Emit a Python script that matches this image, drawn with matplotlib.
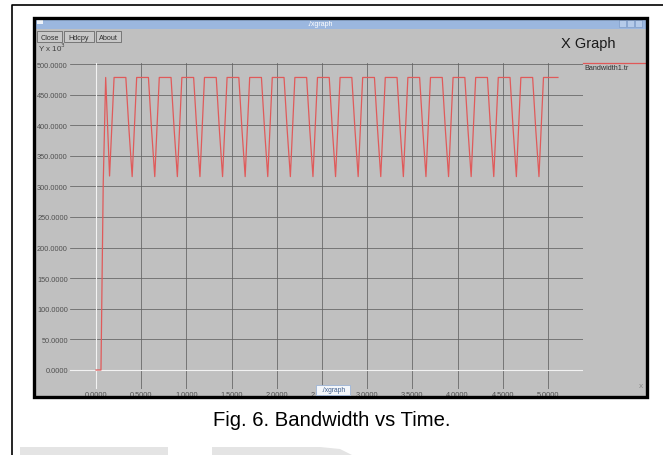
import matplotlib.pyplot as plt
from matplotlib.patches import Rectangle, Polygon
from matplotlib.ticker import FormatStrFormatter

# Bandwidth1.tr (time in s, bandwidth in 10^3 units)
time = [0.000, 0.055, 0.080, 0.107, 0.150, 0.200,
        0.330, 0.365, 0.400, 0.450,
        0.580, 0.615, 0.650, 0.700,
        0.830, 0.865, 0.900, 0.950,
        1.080, 1.115, 1.150, 1.200,
        1.330, 1.365, 1.400, 1.450,
        1.580, 1.615, 1.650, 1.700,
        1.830, 1.865, 1.900, 1.950,
        2.080, 2.115, 2.150, 2.200,
        2.330, 2.365, 2.400, 2.450,
        2.580, 2.615, 2.650, 2.700,
        2.830, 2.865, 2.900, 2.950,
        3.080, 3.115, 3.150, 3.200,
        3.330, 3.365, 3.400, 3.450,
        3.580, 3.615, 3.650, 3.700,
        3.830, 3.865, 3.900, 3.950,
        4.080, 4.115, 4.150, 4.200,
        4.330, 4.365, 4.400, 4.450,
        4.580, 4.615, 4.650, 4.700,
        4.830, 4.865, 4.900, 4.950,
        5.110]
bandwidth = [0, 0, 305, 478, 317, 478,
             478, 392, 316, 478,
             478, 392, 316, 478,
             478, 392, 316, 478,
             478, 392, 316, 478,
             478, 392, 316, 478,
             478, 392, 316, 478,
             478, 392, 316, 478,
             478, 392, 316, 478,
             478, 392, 316, 478,
             478, 392, 316, 478,
             478, 392, 316, 478,
             478, 392, 316, 478,
             478, 392, 316, 478,
             478, 392, 316, 478,
             478, 392, 316, 478,
             478, 392, 316, 478,
             478, 392, 316, 478,
             478, 392, 316, 478,
             478, 392, 316, 478,
             478]

x_ticks = [0.0, 0.5, 1.0, 1.5, 2.0, 2.5, 3.0, 3.5, 4.0, 4.5, 5.0]
y_ticks = [0, 50, 100, 150, 200, 250, 300, 350, 400, 450, 500]

W, H = 663, 456
fig = plt.figure(figsize=(W / 100, H / 100), dpi=100)
fig.patch.set_facecolor('white')
font = 'Liberation Sans'

# background layer in pixel coordinates (paper page + xgraph window)
bg = fig.add_axes([0, 0, 1, 1], zorder=0)
bg.set_xlim(0, W)
bg.set_ylim(H, 0)
bg.axis('off')

# page frame lines and faint watermark
bg.plot([11.5, 11.5, W], [H, 6, 6], color='black', lw=1.2)
bg.add_patch(Rectangle((20, 448), 148, 8, color='#e4e4e4', lw=0))
bg.add_patch(Polygon([(212, 456), (212, 448), (320, 448), (340, 450), (352, 456)],
                     closed=True, color='#e4e4e4', lw=0))

# window body and title bar
bg.add_patch(Rectangle((34, 19), 612, 378, color='#c0c0c0', lw=0))
bg.add_patch(Rectangle((34, 19), 612, 11, color='#9bb7df', lw=0))
bg.add_patch(Rectangle((37, 21), 6, 4, color='#eef3fa', lw=0))
for bx in (619, 627, 635):
    bg.add_patch(Rectangle((bx, 21), 7, 7, facecolor='#b5cbea', edgecolor='#7f9cc8', lw=0.5))
bg.text(320, 24.5, './xgraph', color='white', fontsize=5, family=font, ha='center', va='center')

# buttons
for label, x0, x1 in (('Close', 37, 62), ('Hdcpy', 64, 94), ('About', 96, 121)):
    bg.add_patch(Rectangle((x0, 32), x1 - x0, 11, facecolor='#c8c8c8', edgecolor='#6a6a6a', lw=0.6))
    bg.text((x0 + x1) / 2, 38, label, color='#303030', fontsize=5.2, family=font,
            ha='center', va='center')

bg.text(38, 48, 'Y x 10$^3$', color='#404040', fontsize=5.8, family=font, va='center')
bg.text(588, 44, 'X Graph', color='#1a1a1a', fontsize=10.5, family=font, ha='center', va='center')

# legend entry
bg.plot([583, 645], [64, 64], color='#e05858', lw=0.9)
bg.text(584, 68.5, 'Bandwidth1.tr', color='#303030', fontsize=5.2, family=font, va='center')

# caption
bg.text(332, 421, 'Fig. 6. Bandwidth vs Time.', color='black', fontsize=14.6, family=font,
        ha='center', va='center')

# plot area: x 0 -> px 96, 5 -> px 548 ; y 0 -> px 371, 500 -> px 65
px_x = 90.4
px_y = 0.612
left, right, top, bottom = 70, 583, 64, 390
ax = fig.add_axes([left / W, 1 - bottom / H, (right - left) / W, (bottom - top) / H], zorder=1)
ax.set_facecolor('none')
ax.set_xlim((left - 96) / px_x, (right - 96) / px_x)
ax.set_ylim((371 - bottom) / px_y, (371 - top) / px_y)
for s in ax.spines.values():
    s.set_visible(False)
ax.set_xticks(x_ticks)
ax.set_yticks(y_ticks)
ax.xaxis.set_major_formatter(FormatStrFormatter('%.4f'))
ax.yaxis.set_major_formatter(FormatStrFormatter('%.4f'))
ax.tick_params(length=0, labelsize=5.3, labelcolor='#505050', pad=1.5)
for lab in ax.get_xticklabels() + ax.get_yticklabels():
    lab.set_family(font)
ax.grid(True, color='#626262', lw=0.55)
ax.axvline(0, color='#f2f2f2', lw=0.8)
ax.axhline(0, color='#f2f2f2', lw=0.8)
ax.plot(time, bandwidth, color='#e05a5a', lw=0.9)

# overlay: window border, taskbar tooltip
ov = fig.add_axes([0, 0, 1, 1], zorder=2)
ov.set_xlim(0, W)
ov.set_ylim(H, 0)
ov.axis('off')
ov.set_facecolor('none')
ov.add_patch(Rectangle((33.5, 18.5), 613, 379, fill=False, edgecolor='black', lw=2.4))
ov.add_patch(Rectangle((316, 386), 34, 10, facecolor='#f4f7fb', edgecolor='#9db4d6', lw=0.6))
ov.text(333, 391, './xgraph', color='#3a5a8a', fontsize=4.8, family=font, ha='center', va='center')
ov.text(641, 387, 'x', color='#8a8a8a', fontsize=6, family=font, ha='center', va='center')

fig.savefig('out.png', dpi=100)
